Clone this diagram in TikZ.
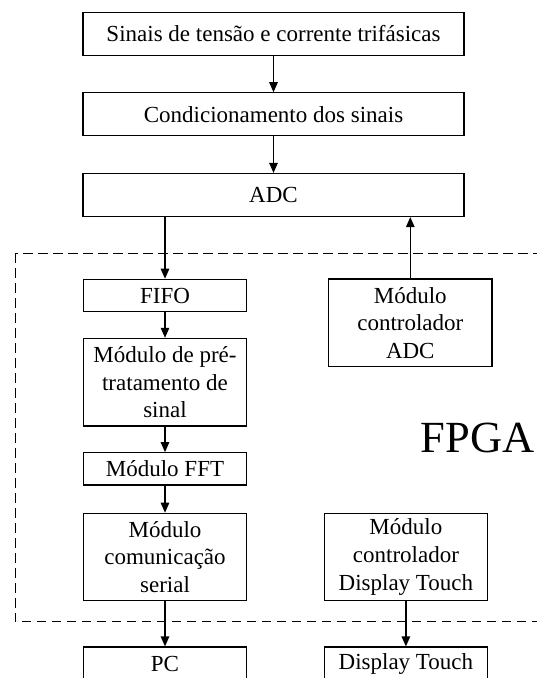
\documentclass[tikz,border=0pt]{standalone}
\usepackage{fontspec}
\setmainfont{Liberation Serif}
\usetikzlibrary{arrows.meta}
\tikzset{
  blk/.style={draw, line width=1.2pt, inner sep=0pt, align=center,
    font=\fontsize{23}{27.6}\selectfont},
  wide/.style={blk, minimum width=381pt, minimum height=43pt},
  col/.style={blk, minimum width=163.5pt},
  arr/.style={line width=1.2pt, -{Triangle[length=10pt,width=8.5pt]}},
  fpgabox/.style={line width=1.2pt, dash pattern=on 9.5pt off 5.5pt}
}
\begin{document}
\begin{tikzpicture}[x=1pt,y=-1pt]
\useasboundingbox (0,0) rectangle (536,678);
\node[wide] (s1) at (273.5,33.7) {Sinais de tensão e corrente trifásicas};
\node[wide] (s2) at (273.5,114.3) {Condicionamento dos sinais};
\node[wide] (adc) at (273.5,195) {ADC};
\draw[fpgabox] (15.3,253.3) rectangle (548,621.7);
\node[col, minimum height=32.4pt] (fifo) at (165,295.5) {FIFO};
\node[col, minimum height=87.7pt] (pre) at (165,382.2) {Módulo de pré-\\tratamento de\\sinal};
\node[col, minimum height=32.3pt] (fft) at (165,468.9) {Módulo FFT};
\node[col, minimum height=87.4pt] (com) at (165,557) {Módulo\\comunicação\\serial};
\node[col, minimum height=34pt] (pc) at (165,664) {PC};
\node[col, minimum height=87.7pt] (cadc) at (410.3,322.8) {Módulo\\controlador\\ADC};
\node[col, minimum height=87.4pt] (cdt) at (405.9,557) {Módulo\\controlador\\Display Touch};
\node[col, minimum height=34pt] (dt) at (405.9,664) {Display Touch};
\node[anchor=base west, inner sep=0pt, font=\fontsize{44.5}{48}\selectfont] (fpga) at (420.5,452.7) {FPGA};
\draw[arr] (s1) -- (s2);
\draw[arr] (s2) -- (adc);
\draw[arr] (adc.south -| fifo.north) -- (fifo.north);
\draw[arr] (fifo) -- (pre);
\draw[arr] (pre) -- (fft);
\draw[arr] (fft) -- (com);
\draw[arr] (com) -- (pc);
\draw[arr] (cadc.north) -- (cadc.north |- adc.south);
\draw[arr] (cdt) -- (dt);
\end{tikzpicture}
\end{document}
